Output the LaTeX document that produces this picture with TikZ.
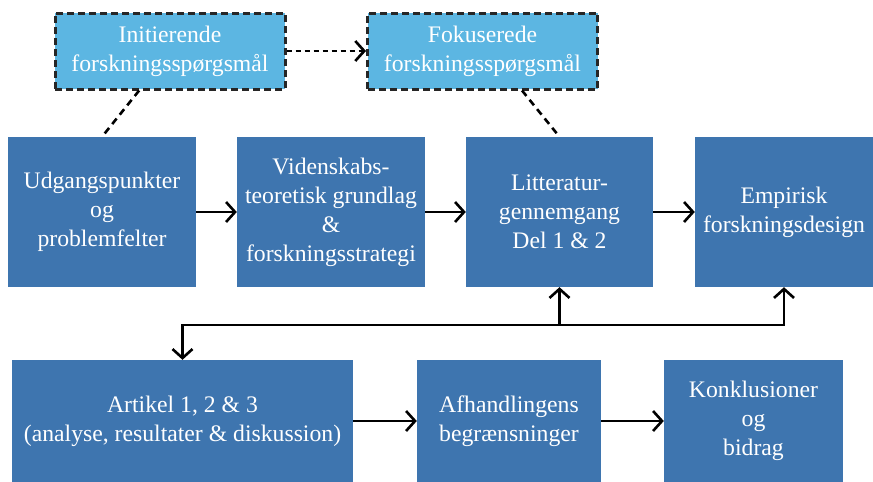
\documentclass[tikz,border=0pt]{standalone}
\usepackage{fontspec}
\setmainfont{Liberation Serif}
\usetikzlibrary{arrows.meta}
\definecolor{boksblaa}{RGB}{62,117,175}
\definecolor{lysblaa}{RGB}{92,182,226}

\begin{document}
\begin{tikzpicture}[x=1pt, y=-1pt,
  every node/.style={font=\fontsize{23.7}{29}\selectfont, text=white, align=center, inner sep=0pt},
  boks/.style={fill=boksblaa, minimum height=150pt},
  spm/.style={fill=lysblaa, draw=black!85, line width=3pt, dash pattern=on 7pt off 4pt, minimum width=230pt, minimum height=76pt},
  pil/.style={line width=2.6pt, -{Straight Barb[length=9pt,width=20pt]}},
  stiplet/.style={line width=2.6pt, dash pattern=on 7pt off 5pt}]
\useasboundingbox[fill=white] (0,0) rectangle (873,482);
\node[spm] (init) at (170,51) {Initierende\\forskningsspørgsmål};
\node[spm] (fokus) at (482.5,51) {Fokuserede\\forskningsspørgsmål};
\node[boks, minimum width=188pt] (udgang) at (102,212) {Udgangspunkter\\og\\problemfelter};
\node[boks, minimum width=188pt] (videnskab) at (331,212) {Videnskabs-\\teoretisk grundlag\\\&\\forskningsstrategi};
\node[boks, minimum width=187pt] (litt) at (559.5,212) {Litteratur-\\gennemgang\\Del 1 \& 2};
\node[boks, minimum width=178pt] (empiri) at (784,212) {Empirisk\\forskningsdesign};
\node[boks, minimum width=341pt, minimum height=122pt] (artikel) at (182.5,421) {Artikel 1, 2 \& 3\\(analyse, resultater \& diskussion)};
\node[boks, minimum width=184pt, minimum height=122pt] (begr) at (509,421) {Afhandlingens\\begrænsninger};
\node[boks, minimum width=179pt, minimum height=122pt] (konkl) at (753.5,421) {Konklusioner\\og\\bidrag};
\coordinate (samling) at (559.5,325);
% forbindelser
\draw[pil, stiplet, dash pattern=on 5pt off 4pt] (init) -- (fokus);
\draw[stiplet] (init.232) -- (udgang.north);
\draw[stiplet] (fokus.-45) -- (litt.north);
\draw[pil] (udgang) -- (videnskab);
\draw[pil] (videnskab) -- (litt);
\draw[pil] (litt) -- (empiri);
\draw[pil] (samling) -- (litt);
\draw[pil] (samling) -| (empiri);
\draw[pil] (samling) -| (artikel);
\draw[pil] (artikel) -- (begr);
\draw[pil] (begr) -- (konkl);
\end{tikzpicture}
\end{document}
